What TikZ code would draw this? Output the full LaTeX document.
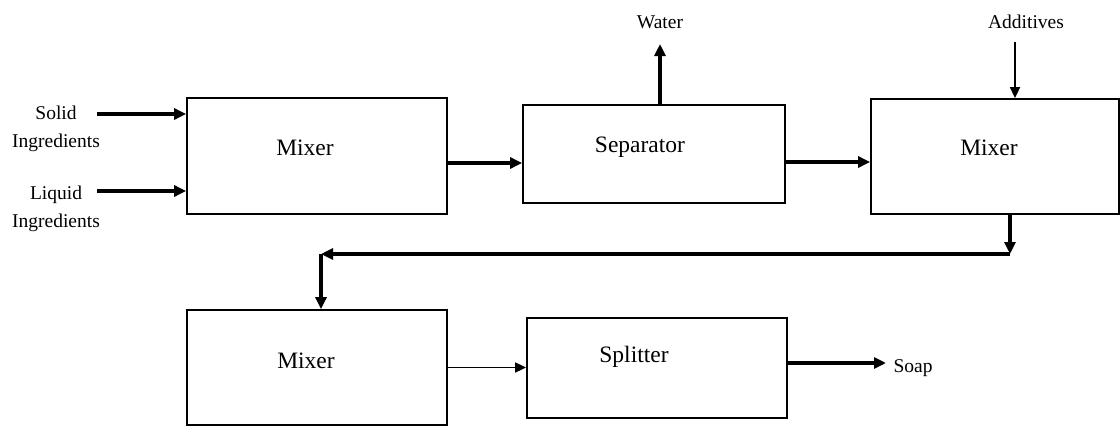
\documentclass[tikz,border=0pt]{standalone}
\usepackage{fontspec}
\setmainfont{Liberation Serif}
\usetikzlibrary{arrows.meta,calc}
\begin{document}
\begin{tikzpicture}[x=1pt,y=-1pt,
  unit/.style={draw,line width=1.8pt,rectangle,inner sep=0pt},
  unitlabel/.style={font=\fontsize{23.5}{26}\selectfont},
  streamlabel/.style={font=\fontsize{19.5}{28.5}\selectfont,align=center},
  bigflow/.style={line width=3.4pt,-{Triangle[length=12pt,width=11pt]}},
  smallflow/.style={line width=1.7pt,-{Triangle[length=11pt,width=10pt]}}]
\useasboundingbox (0,0) rectangle (1120,431);

% process units
\node[unit,minimum width=260pt,minimum height=116pt] (mixA) at (317,156) {};
\node[unit,minimum width=262pt,minimum height=98pt] (sep) at (654,154) {};
\node[unit,minimum width=248pt,minimum height=115pt] (mixB) at (995,156.5) {};
\node[unit,minimum width=260pt,minimum height=115pt] (mixC) at (317,367.5) {};
\node[unit,minimum width=260pt,minimum height=100pt] (split) at (657,368) {};

% unit names
\node[unitlabel] (mixAt) at (305,148) {Mixer};
\node[unitlabel] (sept) at (640,147) {Separator};
\node[unitlabel] (mixBt) at (989,148) {Mixer};
\node[unitlabel] (mixCt) at (306,361) {Mixer};
\node[unitlabel] (splitt) at (634,357) {Splitter};

% stream labels
\node[streamlabel] (solid) at (56,129) {Solid\\Ingredients};
\node[streamlabel] (liquid) at (56,209) {Liquid\\Ingredients};
\node[streamlabel] (water) at (660,22) {Water};
\node[streamlabel] (add) at (1026,22) {Additives};
\node[streamlabel,anchor=west] (soap) at (890,368) {Soap};

% stream endpoints
\coordinate (solidS) at (97,114);
\coordinate (liquidS) at (97,191);
\coordinate (waterE) at (660,44);
\coordinate (addS) at (1015,42);
\coordinate (soapE) at (886,363);
\coordinate (bendA) at (1010,254);
\coordinate (bendB) at (321,254);

% feed streams
\draw[bigflow] (solidS) -- (solidS -| mixA.west);
\draw[bigflow] (liquidS) -- (liquidS -| mixA.west);

% main line
\draw[bigflow] ($(mixA.east)+(0,7)$) -- ($(sep.west)+(0,9)$);
\draw[bigflow] (sep.north -| waterE) -- (waterE);
\draw[bigflow] ($(sep.east)+(0,8)$) -- ($(mixB.west)+(0,5.5)$);
\draw[smallflow] (addS) -- (addS |- mixB.north);
\draw[bigflow] (bendA |- mixB.south) -- (bendA);
\draw[bigflow] (bendA) -- (bendB);
\draw[bigflow] (bendB) -- (bendB |- mixC.north);
\draw[smallflow] (mixC.east) -- (split.west |- mixC.east);
\draw[bigflow] ($(split.east)+(0,-5)$) -- (soapE);
\end{tikzpicture}
\end{document}
